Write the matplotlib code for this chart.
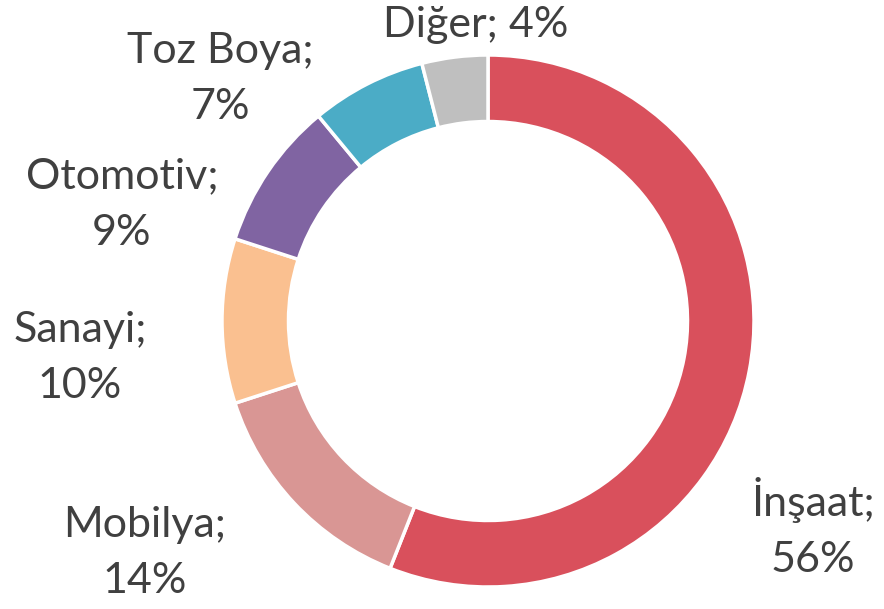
import matplotlib
matplotlib.use("Agg")
import matplotlib.pyplot as plt

categories = ["İnşaat", "Mobilya", "Sanayi", "Otomotiv", "Toz Boya", "Diğer"]
values = [56, 14, 10, 9, 7, 4]
colors = ["#D9505C", "#D99694", "#FAC090", "#8064A2", "#4BACC6", "#BFBFBF"]

# label anchor positions in pixel space (layout only)
label_pos = [(813, 528), (145, 553), (80, 358), (122, 205), (220, 79), (476, 25)]
single_line = [False, False, False, False, False, True]

W, H = 884, 609
fig = plt.figure(figsize=(W / 100, H / 100), dpi=100)
ax = fig.add_axes([0, 0, 1, 1])

cx, cy, R = 488, 321, 266
# y axis is inverted below, so counterclock=True in data space appears clockwise
ax.pie(values, colors=colors, startangle=-90, counterclock=True,
       center=(cx, cy), radius=R, frame=True,
       wedgeprops=dict(width=R * 0.25, edgecolor="white", linewidth=2.5))
ax.set_xlim(0, W)
ax.set_ylim(H, 0)
ax.axis("off")

for (x, y), cat, val, one in zip(label_pos, categories, values, single_line):
    txt = f"{cat}; {val}%" if one else f"{cat};\n{val}%"
    ax.text(x, y, txt, ha="center", va="center", fontsize=31, color="#404040",
            family="Lato", linespacing=1.6)

fig.savefig("out.png", dpi=100)
